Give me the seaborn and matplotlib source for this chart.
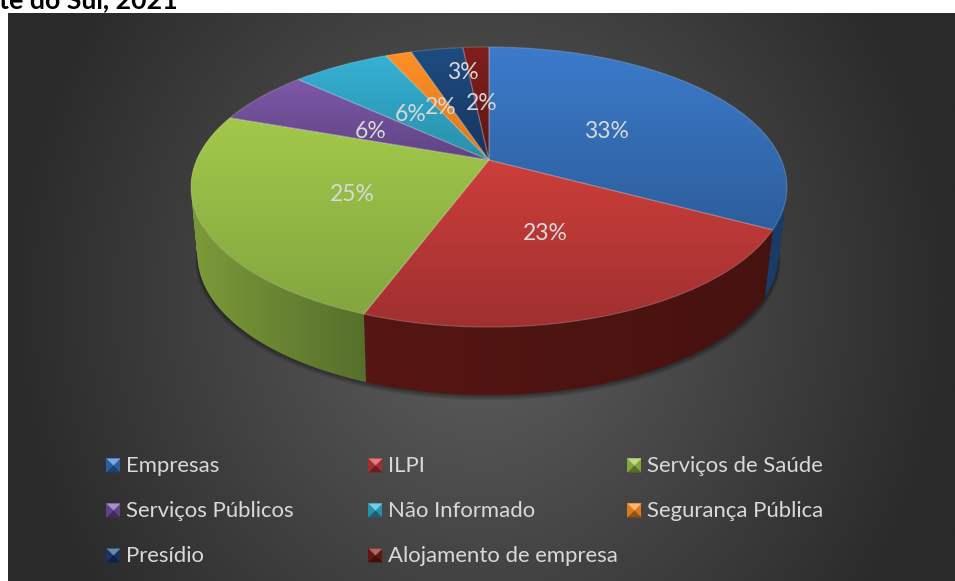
#!/usr/bin/env python3
import numpy as np
import seaborn as sns
import matplotlib
matplotlib.use("Agg")
import matplotlib.pyplot as plt
from matplotlib.patches import Polygon, PathPatch
from matplotlib.path import Path
from matplotlib.transforms import Transform

categories = ["Empresas", "ILPI", "Serviços de Saúde", "Serviços Públicos", "Não Informado",
              "Segurança Pública", "Presídio", "Alojamento de empresa"]
values = [32.8, 22.9, 24.7, 6.4, 6.4, 1.7, 3.4, 1.7]
top_colors = ["#3c7bcb", "#cc3e3a", "#a2c84a", "#7e58a7", "#35b1d5", "#ff8f27", "#1e4c80", "#801f1c"]
bottom_colors = ["#2c5e9d", "#a03030", "#83a63e", "#5f4484", "#2a8fa9", "#d87a20", "#17355f", "#601613"]
side_left = ["#143056", "#561613", "#7c9a3a", "#3e2c58", "#1c5f70", "#8a4f12", "#0f2542", "#3f0f0d"]
side_right = ["#1a3c68", "#461210", "#566f2b", "#3e2c58", "#1c5f70", "#8a4f12", "#0f2542", "#3f0f0d"]

sns.set_theme(style="white")
plt.rcParams["font.family"] = ["Lato", "DejaVu Sans"]

W, H = 955, 581


class Persp(Transform):
    # unit pie -> figure pixels, seen from a tilted camera
    input_dims = output_dims = 2
    is_separable = False
    has_inverse = False

    def __init__(self, drop=0, sx=1.0, shift=0):
        super().__init__()
        self.drop = drop
        self.sx = sx
        self.shift = shift

    def transform_non_affine(self, v):
        v = np.asarray(v, dtype=float)
        w = 1 + 0.193 * v[:, 1]
        return np.column_stack([489 + self.shift + 292.4 * self.sx * v[:, 0] / w,
                                160 + self.drop - 134.8 * v[:, 1] / w])


fig = plt.figure(figsize=(W / 100, H / 100), dpi=100, facecolor="white")
ax = fig.add_axes([0, 0, 1, 1])

wedges, _, autotexts = ax.pie(values, colors=top_colors, startangle=90, counterclock=False,
                              autopct="%.0f%%", pctdistance=0.49,
                              textprops=dict(color="#d9d9d9", fontsize=16.5))
ax.set_aspect("auto")
ax.set_xlim(0, W)
ax.set_ylim(H, 0)
ax.autoscale(False)
ax.axis("off")

# panel background
yy, xx = np.mgrid[13:H:300j, 8:W:500j]
rr = np.sqrt(((xx - 480) / 560) ** 2 + ((yy - 300) / 620) ** 2)
bg_cmap = sns.blend_palette(["#595959", "#2a2a2a"], as_cmap=True)
ax.imshow(rr, extent=(8, W, H, 13), cmap=bg_cmap, vmin=0.1, vmax=0.85, aspect="auto", zorder=0)

# soft shadow under the disc
th = np.radians(np.linspace(0, 360, 181))
disc = np.column_stack([np.cos(th), np.sin(th)])
for e in range(1, 7):
    pts = Persp(drop=68 + e * 0.9, sx=0.975 + e * 0.0012, shift=-1).transform(disc)
    ax.add_patch(Polygon(pts, closed=True, fc="black", ec="none", alpha=0.07, zorder=0.5))


def gradient(colors, vertical=True):
    cmap = sns.blend_palette(colors, as_cmap=True)
    g = np.linspace(0, 1, 64)
    return (g[:, None] if vertical else g[None, :]), cmap


def wall_path(upper, lower):
    # one quad per arc step, all wound the same way so they fill as a union
    verts, codes = [], []
    for k in range(len(upper) - 1):
        quad = np.array([upper[k], upper[k + 1], lower[k + 1], lower[k]])
        x, y = quad[:, 0], quad[:, 1]
        if np.dot(x, np.roll(y, -1)) - np.dot(y, np.roll(x, -1)) < 0:
            quad = quad[::-1]
        verts += list(quad) + [quad[0]]
        codes += [Path.MOVETO, Path.LINETO, Path.LINETO, Path.LINETO, Path.CLOSEPOLY]
    return Path(verts, codes)


# side walls, then gradient-filled top faces
for i, w in enumerate(wedges):
    a = np.radians(np.linspace(w.theta1, w.theta2, 80))
    unit = np.column_stack([np.cos(a), np.sin(a)])
    upper = Persp().transform(unit)
    lower = Persp(drop=68, sx=0.975, shift=-1).transform(unit)
    wall = PathPatch(wall_path(upper, lower), fc="none", ec="none")
    ax.add_patch(wall)
    front = np.vstack([upper, lower])
    arr, cmap = gradient([side_left[i], side_right[i]], vertical=False)
    im = ax.imshow(arr, extent=(front[:, 0].min(), front[:, 0].max(), H, 0), cmap=cmap,
                   aspect="auto", interpolation="bilinear", zorder=1)
    im.set_clip_path(wall)

for i, w in enumerate(wedges):
    w.set_transform(Persp() + ax.transData)
    w.set_facecolor("none")
    w.set_edgecolor(matplotlib.colors.to_rgba("white", 0.2))
    w.set_linewidth(0.8)
    w.set_zorder(3)
    a = np.radians(np.linspace(w.theta1, w.theta2, 40))
    outline = np.vstack([[[0, 0]], np.column_stack([np.cos(a), np.sin(a)])])
    pts = Persp().transform(outline)
    arr, cmap = gradient([top_colors[i], bottom_colors[i]])
    im = ax.imshow(arr, extent=(pts[:, 0].min(), pts[:, 0].max(), pts[:, 1].max(), pts[:, 1].min()),
                   cmap=cmap, aspect="auto", interpolation="bilinear", zorder=2)
    im.set_clip_path(w)

for t in autotexts:
    t.set_transform(Persp() + ax.transData)
    t.set_zorder(5)
    t.set_y(t.get_position()[1] - 0.035)
# the 3% label was dragged up towards the rim
autotexts[6].set_y(autotexts[6].get_position()[1] + 0.3)

# legend, three columns, filled row by row
legend_x = [113, 375, 634]
legend_y = [465, 510, 555]
tri_top = [(-1, 1), (1, 1), (0, 0)]
tri_bot = [(-1, -1), (1, -1), (0, 0)]
for i, name in enumerate(categories):
    x, y = legend_x[i % 3], legend_y[i // 3]
    ax.scatter([x], [y], marker="s", s=100, color=bottom_colors[i], linewidths=0, zorder=4)
    light = sns.blend_palette([top_colors[i], "white"], 4)[1]
    ax.scatter([x], [y], marker=tri_top, s=100, color=light, linewidths=0, zorder=4.1)
    dark = sns.blend_palette([bottom_colors[i], "black"], 4)[1]
    ax.scatter([x], [y], marker=tri_bot, s=100, color=dark, linewidths=0, zorder=4.1)
    ax.text(x + 13, y + 1, name, color="#d9d9d9", fontsize=15.9, va="center", ha="left", zorder=5)

# end of the caption sitting above the chart, cut off by the page edge
fig.text(-1 / W, 1 - 8 / H, "te do Sul, 2021", fontsize=19.3, fontweight="bold", color="black",
         ha="left", va="baseline")

fig.savefig("out.png", dpi=100, facecolor="white")
